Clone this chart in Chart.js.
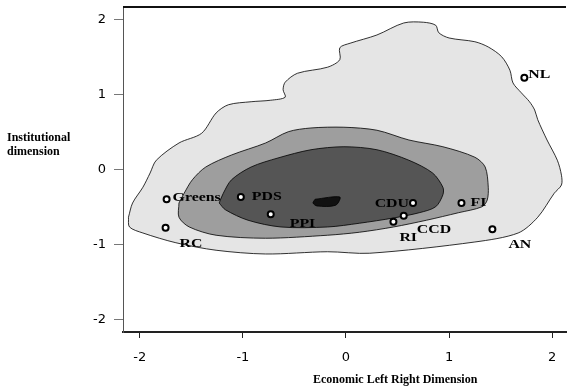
<!DOCTYPE html>
<html>
<head>
<meta charset="utf-8">
<script src="https://cdn.jsdelivr.net/npm/chart.js@4.4.1/dist/chart.umd.min.js"></script>
<style>
  html, body { margin: 0; padding: 0; background: #fff; }
  #wrap { width: 572px; height: 390px; }
</style>
</head>
<body>
<div id="wrap"><canvas id="mycanvas"></canvas></div>
<script>
// party positions
var parties = ['Greens', 'PDS', 'PPI', 'RC', 'CDU', 'FI', 'CCD', 'RI', 'AN', 'NL'];
var partyX = [-1.74, -1.02, -0.73, -1.75, 0.65, 1.12, 0.56, 0.46, 1.42, 1.73];
var partyY = [-0.39, -0.36, -0.59, -0.77, -0.44, -0.44, -0.61, -0.69, -0.79, 1.23];

var tickValues = [-2, -1, 0, 1, 2];

// density contours, [x, y]
var outerContour = [[-2.11,-0.63],[-2.07,-0.44],[-1.97,-0.23],[-1.90,-0.04],[-1.84,0.13],[-1.62,0.36],
  [-1.40,0.49],[-1.26,0.76],[-1.14,0.87],[-0.92,0.91],[-0.73,0.93],[-0.59,0.97],[-0.61,1.07],[-0.59,1.17],
  [-0.47,1.29],[-0.18,1.37],[-0.06,1.47],[-0.06,1.63],[0.04,1.69],[0.30,1.80],[0.56,1.96],[0.75,1.97],
  [0.87,1.93],[0.90,1.83],[1.00,1.76],[1.25,1.71],[1.38,1.64],[1.51,1.51],[1.59,1.33],[1.62,1.16],
  [1.70,1.03],[1.78,0.91],[1.83,0.80],[1.86,0.67],[1.95,0.40],[2.05,0.13],[2.09,-0.07],[2.09,-0.20],
  [2.02,-0.31],[1.86,-0.63],[1.67,-0.84],[1.25,-0.96],[0.23,-1.11],[-0.18,-1.09],[-0.78,-1.12],
  [-1.26,-1.07],[-1.65,-0.97],[-1.97,-0.84],[-2.10,-0.76]];
var middleContour = [[-1.62,-0.44],[-1.57,-0.31],[-1.49,-0.13],[-1.36,0.04],[-1.11,0.20],[-0.78,0.36],
  [-0.56,0.51],[-0.34,0.56],[-0.02,0.57],[0.30,0.53],[0.61,0.40],[0.94,0.31],[1.25,0.17],[1.35,0.04],
  [1.38,-0.23],[1.37,-0.40],[1.32,-0.49],[1.09,-0.57],[0.78,-0.67],[0.46,-0.76],[0.13,-0.83],
  [-0.18,-0.87],[-0.78,-0.91],[-1.26,-0.87],[-1.52,-0.76],[-1.62,-0.63]];
var innerContour = [[-1.23,-0.44],[-1.19,-0.31],[-1.11,-0.13],[-0.92,0.04],[-0.66,0.16],[-0.34,0.27],
  [-0.02,0.31],[0.30,0.27],[0.61,0.13],[0.84,-0.04],[0.94,-0.23],[0.94,-0.33],[0.87,-0.49],[0.71,-0.57],
  [0.46,-0.64],[0.13,-0.71],[-0.18,-0.76],[-0.63,-0.76],[-0.95,-0.67],[-1.17,-0.53]];
var coreContour = [[-0.30,-0.39],[-0.06,-0.36],[-0.10,-0.47],[-0.28,-0.48],[-0.32,-0.44]];

// label placement (px from the point), align
var labelOffsets = [[6,-2,'left'],[11,0,'left'],[19,9,'left'],[14,16,'left'],[-4,1,'right'],
  [9,0,'left'],[13,14,'left'],[6,16,'left'],[16,15,'left'],[4,-3,'left']];

function closed(poly) {
  var pts = poly.map(function(p){ return {x: p[0], y: p[1]}; });
  pts.push({x: poly[0][0], y: poly[0][1]});
  return pts;
}

function contour(poly, fillColor, ord) {
  return {
    data: closed(poly),
    showLine: true,
    fill: 'shape',
    backgroundColor: fillColor,
    borderColor: '#000',
    borderWidth: 0.8,
    pointRadius: 0,
    tension: 0.3,
    order: ord
  };
}

var partyPoints = [];
for (var i in parties) {
  partyPoints.push({x: partyX[i], y: partyY[i]});
}

function noPad(s) {
  s.paddingTop = 0; s.paddingBottom = 0; s.paddingLeft = 0; s.paddingRight = 0;
}

var decorPlugin = {
  id: 'decor',
  afterDatasetsDraw: function(chart) {
    var ctx = chart.ctx;
    var area = chart.chartArea;
    ctx.save();
    // top border of the box
    ctx.strokeStyle = '#111';
    ctx.lineWidth = 2;
    ctx.beginPath();
    ctx.moveTo(area.left, area.top);
    ctx.lineTo(area.right, area.top);
    ctx.stroke();

    // party labels
    var meta = chart.getDatasetMeta(4);
    ctx.fillStyle = '#000';
    ctx.font = 'bold 13px "Liberation Serif"';
    ctx.textBaseline = 'middle';
    meta.data.forEach(function(el, k) {
      var off = labelOffsets[k];
      ctx.save();
      ctx.translate(el.x + off[0], el.y + off[1]);
      ctx.scale(1.22, 1);
      ctx.textAlign = off[2];
      ctx.fillText(parties[k], 0, 0);
      ctx.restore();
    });

    // axis titles
    ctx.font = 'bold 12px "Liberation Serif"';
    ctx.textAlign = 'left';
    ctx.fillText('Institutional', 7, 138);
    ctx.fillText('dimension', 7, 152);
    ctx.fillText('Economic Left Right Dimension', 313, 380);
    ctx.restore();
  }
};

var ctx = document.getElementById('mycanvas');

var chart = new Chart(ctx, {
  type: 'scatter',
  data: {
    datasets: [
      contour(outerContour, '#e5e5e5', 4),
      contour(middleContour, '#9e9e9e', 3),
      contour(innerContour, '#555555', 2),
      contour(coreContour, '#111111', 1),
      {
        data: partyPoints,
        showLine: false,
        pointRadius: 3,
        pointBorderWidth: 2,
        pointBackgroundColor: '#fff',
        pointBorderColor: '#000',
        order: 0
      }
    ]
  },
  options: {
    responsive: true,
    maintainAspectRatio: false,
    animation: false,
    layout: { padding: { top: 7, right: 0, left: 0, bottom: 0 } },
    plugins: { legend: { display: false }, tooltip: { enabled: false } },
    scales: {
      x: {
        type: 'linear',
        min: -2.163,
        max: 2.134,
        afterBuildTicks: function(s) { s.ticks = tickValues.map(function(v){ return {value: v}; }); },
        afterFit: function(s) { s.height = 58; noPad(s); },
        grid: { drawOnChartArea: false, drawTicks: true, tickLength: 6, color: '#222' },
        border: { display: true, color: '#222', width: 2 },
        ticks: { font: { family: 'DejaVu Sans', size: 13 }, color: '#000', padding: 12, maxRotation: 0, autoSkip: false }
      },
      y: {
        type: 'linear',
        min: -2.16,
        max: 2.173,
        afterBuildTicks: function(s) { s.ticks = tickValues.map(function(v){ return {value: v}; }); },
        afterFit: function(s) { s.width = 123; noPad(s); },
        grid: { drawOnChartArea: false, drawTicks: true, tickLength: 9, color: '#777' },
        border: { display: true, color: '#555', width: 1 },
        ticks: { font: { family: 'DejaVu Sans', size: 13 }, color: '#000', padding: 8, autoSkip: false }
      }
    }
  },
  plugins: [decorPlugin]
});
</script>
</body>
</html>
